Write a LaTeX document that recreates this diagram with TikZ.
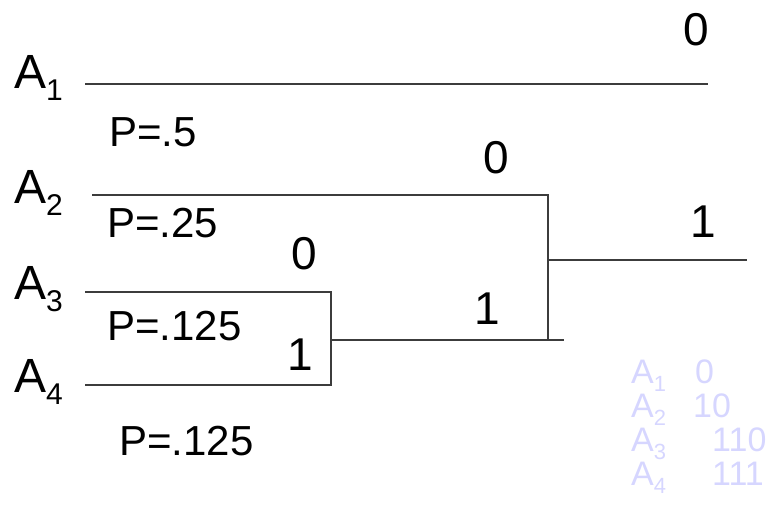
\documentclass[tikz,border=0pt]{standalone}
\usepackage{fontspec}
\setmainfont{Liberation Sans}
\newcommand\Asub[1]{A\raisebox{-12pt}{\fontsize{30}{30}\selectfont #1}}
\newcommand\Lsub[1]{A\raisebox{-8pt}{\fontsize{22}{22}\selectfont #1}}
\definecolor{legendblue}{RGB}{214,214,255}
\definecolor{linegray}{RGB}{60,60,60}
\tikzset{
  wire/.style={draw=linegray, line width=1.3pt},
  alab/.style={anchor=base west, inner sep=0pt, font=\fontsize{48}{48}\selectfont},
  plab/.style={anchor=base west, inner sep=0pt, font=\fontsize{42}{42}\selectfont},
  bit/.style={anchor=base west, inner sep=0pt, font=\fontsize{46}{46}\selectfont},
  leg/.style={anchor=base west, inner sep=0pt, text=legendblue, font=\fontsize{34}{34}\selectfont},
}
\begin{document}
\begin{tikzpicture}[x=1pt,y=-1pt]
\useasboundingbox (0,0) rectangle (773,523);
% wires
\coordinate (a1s) at (85,84);
\coordinate (a1e) at (708,84);
\coordinate (a2s) at (92,195);
\coordinate (a2e) at (548,195);
\coordinate (a3s) at (85,292);
\coordinate (a3e) at (331,292);
\coordinate (a4s) at (85,385);
\coordinate (a4e) at (331,385);
\coordinate (m34) at (331,340);
\coordinate (m34e) at (564,340);
\coordinate (j2) at (548,340);
\coordinate (m2) at (548,260);
\coordinate (m2e) at (747,260);
\draw[wire] (a1s) -- (a1e);
\draw[wire] (a2s) -- (a2e) -- (j2);
\draw[wire] (a3s) -- (a3e) -- (a4e) -- (a4s);
\draw[wire] (m34) -- (m34e);
\draw[wire] (m2) -- (m2e);
% symbol labels
\node[alab] (A1) at (14,88) {\Asub{1}};
\node[alab] (A2) at (14,203) {\Asub{2}};
\node[alab] (A3) at (14,299) {\Asub{3}};
\node[alab] (A4) at (14,392) {\Asub{4}};
% probabilities
\node[plab] (P1) at (109,146) {P=.5};
\node[plab] (P2) at (107,237) {P=.25};
\node[plab] (P3) at (107,340) {P=.125};
\node[plab] (P4) at (119,455) {P=.125};
% bits
\node[bit] (b1) at (683,45) {0};
\node[bit] (b2) at (483,173) {0};
\node[bit] (b3) at (690,237) {1};
\node[bit] (b4) at (291,269) {0};
\node[bit] (b5) at (474,324) {1};
\node[bit] (b6) at (287,370) {1};
% legend
\node[leg] (L1) at (631,383) {\Lsub{1}};
\node[leg] (L2) at (631,417) {\Lsub{2}};
\node[leg] (L3) at (631,451) {\Lsub{3}};
\node[leg] (L4) at (631,485) {\Lsub{4}};
\node[leg] (C1) at (695,383) {0};
\node[leg] (C2) at (693,417) {10};
\node[leg] (C3) at (712,451) {110};
\node[leg] (C4) at (712,485) {111};
\end{tikzpicture}
\end{document}
